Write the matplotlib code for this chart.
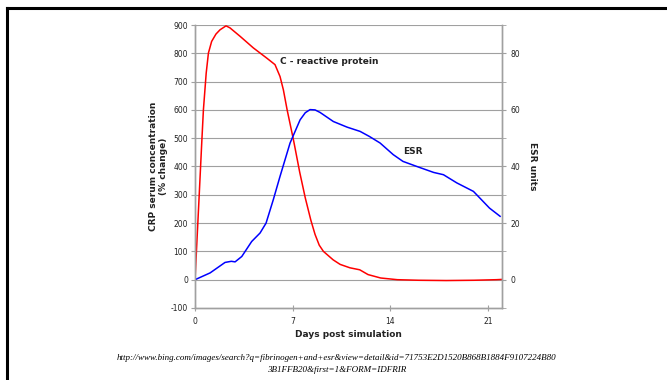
import numpy as np
import matplotlib
matplotlib.use("Agg")
import matplotlib.pyplot as plt
from matplotlib.lines import Line2D

plt.rcParams["axes.unicode_minus"] = False

# CRP serum concentration (% change) vs days
crp_days = [0, 0.3, 0.48, 0.6, 0.8, 0.96, 1.19, 1.5, 1.79, 2.22, 2.5, 3.23, 4.18, 5.14,
            5.73, 6.09, 6.33, 6.6, 7.05, 7.5, 7.9, 8.3, 8.6, 8.9, 9.2, 9.9, 10.4, 11.1,
            11.8, 12.4, 13.3, 14.5, 16, 18, 20, 21.6, 22]
crp_vals = [0, 300, 483, 600, 730, 801, 842, 868, 883, 897, 890, 860, 819, 783,
            760, 718, 671, 600, 495, 380, 289, 210, 160, 122, 100, 70, 54, 42,
            35, 18, 6, 0, -2, -3, -2, 0, 1]

# ESR units vs days
esr_days = [0, 1.08, 2.15, 2.6, 2.87, 3.35, 4.06, 4.66, 5.09, 5.61, 6.09, 6.81, 7.53,
            7.9, 8.24, 8.6, 8.96, 9.91, 10.9, 11.83, 12.5, 13.26, 14.2, 14.9, 15.9,
            17.1, 17.8, 18.76, 19.95, 20.4, 21.1, 21.86]
esr_vals = [0, 2.4, 6.1, 6.5, 6.3, 8.2, 13.5, 16.5, 20.0, 28.3, 36.5, 48.3, 56.5,
            59.0, 60.1, 60.0, 59.1, 55.9, 53.9, 52.4, 50.6, 48.3, 44.2, 41.8, 40.0,
            37.9, 37.1, 34.2, 31.2, 28.9, 25.3, 22.4]

x_ticks = [0, 7, 14, 21]
crp_ticks = list(range(-100, 901, 100))
esr_ticks = [0, 20, 40, 60, 80]

fig = plt.figure(figsize=(6.67, 3.8), dpi=100)
ax = fig.add_axes([0.2924, 0.1895, 0.4603, 0.7447])
ax2 = ax.twinx()

ax.plot(crp_days, crp_vals, color="red", lw=1.1)
ax2.plot(esr_days, esr_vals, color="blue", lw=1.1)

ax.set_xlim(0, 22)
ax.set_ylim(-100, 900)
ax2.set_ylim(-10, 90)

ax.set_xticks(x_ticks)
ax.set_yticks(crp_ticks)
ax2.set_yticks(esr_ticks)
ax2.set_yticks(range(-10, 91, 10), minor=True)

for y in crp_ticks[1:]:
    ax.axhline(y, color="#a0a0a0", lw=0.8, zorder=0)

for a in (ax, ax2):
    a.spines["top"].set_visible(False)
    for s in ("left", "right", "bottom"):
        a.spines[s].set_color("#a0a0a0")
        a.spines[s].set_linewidth(1.0)
ax.tick_params(axis="y", length=3, color="#a0a0a0", labelsize=5.5, labelcolor="#222222", pad=2)
ax.tick_params(axis="x", direction="inout", length=5, color="#a0a0a0", labelsize=5.5,
               labelcolor="#222222", pad=4)
ax2.tick_params(axis="y", which="both", length=3, color="#a0a0a0", labelsize=5.5,
                labelcolor="#222222", pad=3)

bold = dict(fontsize=6.5, fontweight="bold", color="#222222")
ax.set_xlabel("Days post simulation", labelpad=3, **bold)
ax.set_ylabel("CRP serum concentration\n(% change)", labelpad=2, **bold)
ax2.set_ylabel("ESR units", rotation=-90, labelpad=12, **bold)

ax.text(6.1, 770, "C - reactive protein", ha="left", va="center", **bold)
ax.text(15.6, 452, "ESR", ha="center", va="center", **bold)

fig.text(0.505, 0.058,
         "http://www.bing.com/images/search?q=fibrinogen+and+esr&view=detail&id=71753E2D1520B868B1884F9107224B80",
         ha="center", va="center", fontsize=6.5, family="Liberation Serif", style="italic")
fig.text(0.505, 0.027, "3B1FFB20&first=1&FORM=IDFRIR",
         ha="center", va="center", fontsize=6.5, family="Liberation Serif", style="italic")

# page frame
fig.add_artist(Line2D([0.0105, 1.0], [0.9795, 0.9795], color="black", lw=2.2))
fig.add_artist(Line2D([0.0105, 0.0105], [0.0, 0.9795], color="black", lw=2.2))

fig.savefig("out.png", dpi=100)
